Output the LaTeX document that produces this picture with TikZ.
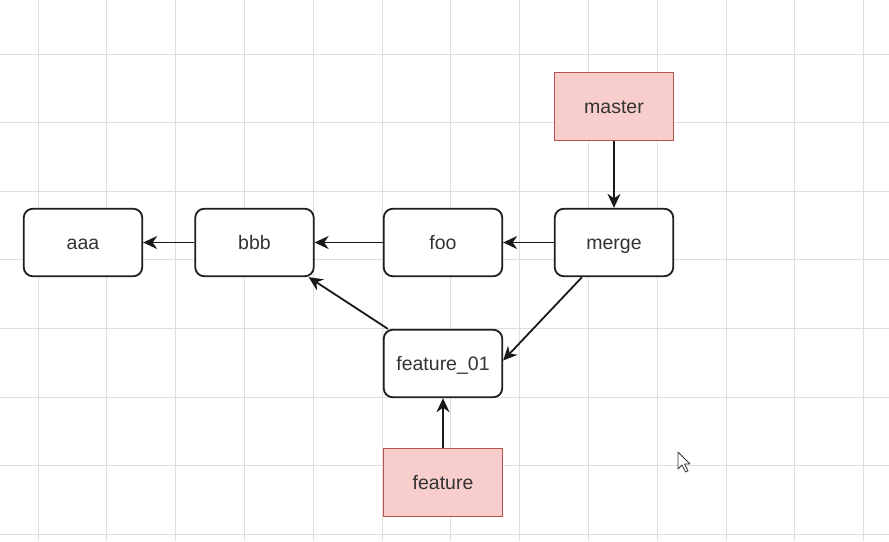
\documentclass[tikz,border=0pt]{standalone}
\usepackage{fontspec}
\setmainfont{Liberation Sans}
\usetikzlibrary{arrows.meta}
\definecolor{gridc}{HTML}{DEDEDE}
\definecolor{pinkf}{HTML}{F8CECC}
\definecolor{pinkd}{HTML}{B85450}
\definecolor{txt}{HTML}{333333}
\begin{document}
\begin{tikzpicture}[x=1pt,y=-1pt,
  box/.style={draw=black!88, line width=1.8pt, rounded corners=9pt, minimum width=118.5pt, minimum height=67.5pt, inner sep=0pt, text height=16.5pt, text depth=2.5pt, fill=white, text=txt, font=\fontsize{19.5}{22}\selectfont},
  refbox/.style={box, rounded corners=0pt, fill=pinkf, draw=pinkd, line width=1.4pt},
  conn/.style={line width=1.8pt, draw=black!90, -{Stealth[length=14pt,width=13pt,inset=4.5pt]}}]
\useasboundingbox (0,0) rectangle (889,541);
\fill[white] (0,0) rectangle (889,541);
\foreach \i in {0,...,12} {\draw[gridc, line width=1pt] ({38+68.8*\i},0) -- ({38+68.8*\i},541);}
\foreach \j in {0,...,7} {\draw[gridc, line width=1pt] (0,{54+68.6*\j}) -- (889,{54+68.6*\j});}
\node[box] (aaa) at (83,242.5) {aaa};
\node[box] (bbb) at (254.5,242.5) {bbb};
\node[box] (foo) at (443,242.5) {foo};
\node[box] (merge) at (614,242.5) {merge};
\node[refbox] (master) at (614,106.5) {master};
\node[box] (f01) at (443,363.5) {feature\_01};
\node[refbox] (feature) at (443,482.5) {feature};
\draw[conn] (bbb) -- (aaa);
\draw[conn] (foo) -- (bbb);
\draw[conn] (merge) -- (foo);
\draw[conn] (master) -- (merge);
\draw[conn] (feature) -- (f01);
\draw[conn] ([xshift=-32pt]merge.south) -- ([yshift=3pt]f01.east);
\draw[conn] ([xshift=5pt]f01.north west) -- ([xshift=-6pt]bbb.south east);
% mouse cursor
\coordinate (cur) at (678,452);
\draw[black!80, fill=white, line width=0.8pt, line join=round] (cur) -- ++(0,17) -- ++(4,-4) -- ++(3.5,7) -- ++(2.5,-1.2) -- ++(-3.5,-6.8) -- ++(5.5,0) -- cycle;
\end{tikzpicture}
\end{document}
